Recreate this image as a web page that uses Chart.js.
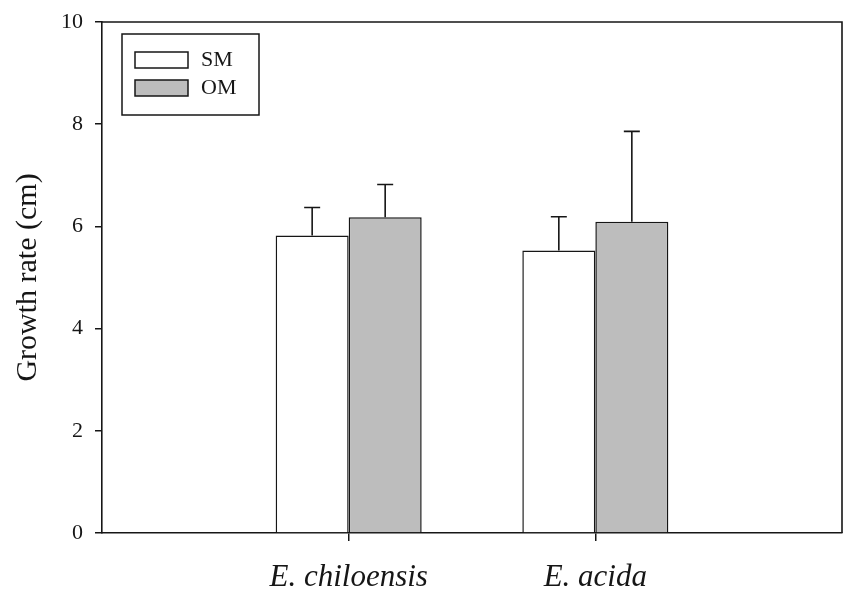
<!DOCTYPE html>
<html>
<head>
<meta charset="utf-8">
<script src="https://cdn.jsdelivr.net/npm/chart.js@4"></script>
<style>
  html, body { margin: 0; padding: 0; background: #fff; }
</style>
</head>
<body>
<canvas id="chart" width="844" height="601"></canvas>
<script>
// data
const categories = ['E. chiloensis', 'E. acida'];
const seriesNames = ['SM', 'OM'];
const smValues = [5.82, 5.53];
const smErrors = [0.55, 0.66];
const omValues = [6.18, 6.09];
const omErrors = [0.64, 1.77];
const yTicks = [0, 2, 4, 6, 8, 10];

const serif = 'Liberation Serif, Times New Roman, serif';
const ink = '#161616';
const grey = '#bdbdbd';

// bars sit on a linear x axis at 1, 2 so the gaps match the figure
const toPoints = (vals) => vals.map((v, i) => ({ x: i + 1, y: v }));

// upward-only error bars with caps
const errorBars = {
  id: 'errorBars',
  afterDatasetsDraw(chart) {
    const { ctx, scales: { y } } = chart;
    ctx.save();
    ctx.strokeStyle = ink;
    ctx.lineWidth = 1.6;
    chart.data.datasets.forEach((ds, i) => {
      chart.getDatasetMeta(i).data.forEach((bar, j) => {
        const top = y.getPixelForValue(ds.data[j].y + ds.errors[j]);
        ctx.beginPath();
        ctx.moveTo(bar.x, bar.y);
        ctx.lineTo(bar.x, top);
        ctx.moveTo(bar.x - 8, top);
        ctx.lineTo(bar.x + 8, top);
        ctx.stroke();
      });
    });
    ctx.restore();
  }
};

// closes the plot box (top and right edges)
const frame = {
  id: 'frame',
  afterDraw(chart) {
    const { ctx, chartArea: a } = chart;
    ctx.save();
    ctx.strokeStyle = ink;
    ctx.lineWidth = 1.6;
    ctx.beginPath();
    ctx.moveTo(a.left, a.top);
    ctx.lineTo(a.right, a.top);
    ctx.lineTo(a.right, a.bottom);
    ctx.stroke();
    ctx.restore();
  }
};

// boxed legend in the upper-left corner of the plot
const boxLegend = {
  id: 'boxLegend',
  afterDraw(chart) {
    const { ctx, chartArea: a } = chart;
    const bx = a.left + 20, by = a.top + 12;
    ctx.save();
    ctx.strokeStyle = ink;
    ctx.lineWidth = 1.5;
    ctx.strokeRect(bx, by, 137, 81);
    ctx.font = '22px ' + serif;
    ctx.textBaseline = 'middle';
    chart.data.datasets.forEach((ds, i) => {
      const sy = by + 18 + i * 28;
      ctx.fillStyle = ds.backgroundColor;
      ctx.fillRect(bx + 13, sy, 53, 16);
      ctx.strokeRect(bx + 13, sy, 53, 16);
      ctx.fillStyle = ink;
      ctx.fillText(ds.label, bx + 79, sy + 8.5);
    });
    ctx.restore();
  }
};

new Chart(document.getElementById('chart'), {
  type: 'bar',
  data: {
    datasets: [
      {
        label: seriesNames[0],
        data: toPoints(smValues),
        errors: smErrors,
        backgroundColor: '#ffffff',
        borderColor: ink,
        borderWidth: 1.5
      },
      {
        label: seriesNames[1],
        data: toPoints(omValues),
        errors: omErrors,
        backgroundColor: grey,
        borderColor: ink,
        borderWidth: 1.5
      }
    ]
  },
  options: {
    responsive: false,
    animation: false,
    layout: { padding: { top: 22, right: 2, left: 0, bottom: 0 } },
    datasets: { bar: { categoryPercentage: 0.592, barPercentage: 1 } },
    plugins: {
      legend: { display: false },
      tooltip: { enabled: false }
    },
    scales: {
      x: {
        type: 'linear',
        offset: false,
        min: 0,
        max: categories.length + 1,
        afterBuildTicks: (axis) => {
          axis.ticks = categories.map((c, i) => ({ value: i + 1 }));
        },
        afterFit: (axis) => { axis.height = 68; },
        ticks: {
          padding: 18,
          color: ink,
          maxRotation: 0,
          autoSkip: false,
          font: { family: serif, size: 31, style: 'italic' },
          callback: (v) => categories[v - 1]
        },
        grid: { display: true, offset: false, drawOnChartArea: false, drawTicks: true, tickLength: 8, color: ink, lineWidth: 1.5 },
        border: { display: true, color: ink, width: 1.6 }
      },
      y: {
        min: yTicks[0],
        max: yTicks[yTicks.length - 1],
        afterBuildTicks: (axis) => { axis.ticks = yTicks.map(v => ({ value: v })); },
        afterFit: (axis) => {
          axis.width = 102;
          axis.paddingTop = 0;
          axis.paddingBottom = 0;
        },
        ticks: {
          padding: 12,
          color: ink,
          font: { family: serif, size: 22 }
        },
        grid: { display: true, drawOnChartArea: false, drawTicks: true, tickLength: 7, color: ink, lineWidth: 1.5 },
        border: { display: true, color: ink, width: 1.6 },
        title: {
          display: true,
          text: 'Growth rate (cm)',
          color: ink,
          font: { family: serif, size: 30 },
          padding: { top: 10, bottom: 0 }
        }
      }
    }
  },
  plugins: [errorBars, frame, boxLegend]
});
</script>
</body>
</html>
